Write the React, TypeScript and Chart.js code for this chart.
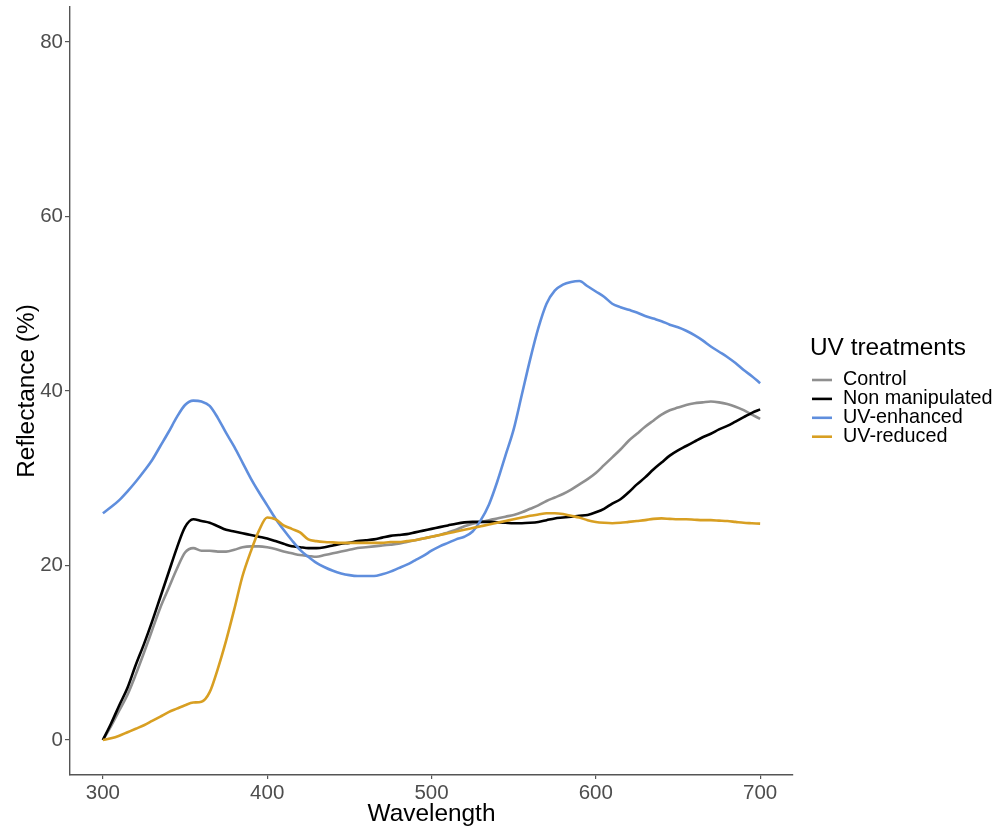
import React, { useEffect, useRef } from "react";
import { Chart, registerables } from "chart.js";

Chart.register(...registerables);

const wavelengths = [
  300, 305, 310, 315, 320, 325, 330, 335, 340, 345, 350, 355, 360, 365, 370, 375, 380, 385, 390, 395,
  400, 405, 410, 415, 420, 425, 430, 435, 440, 445, 450, 455, 460, 465, 470, 475, 480, 485, 490, 495,
  500, 505, 510, 515, 520, 525, 530, 535, 540, 545, 550, 555, 560, 565, 570, 575, 580, 585, 590, 595,
  600, 605, 610, 615, 620, 625, 630, 635, 640, 645, 650, 655, 660, 665, 670, 675, 680, 685, 690, 695,
  700,
];

const control = [
  0, 1.6, 3.4, 5.2, 7.5, 10.0, 12.6, 15.2, 17.4, 19.6, 21.5, 22.0, 21.7, 21.7, 21.6, 21.6, 21.8, 22.1, 22.2, 22.2,
  22.1, 21.9, 21.6, 21.4, 21.2, 21.1, 21.0, 21.2, 21.4, 21.6, 21.8, 22.0, 22.1, 22.2, 22.3, 22.4, 22.5, 22.7, 22.9, 23.1,
  23.3, 23.5, 23.8, 24.1, 24.5, 24.8, 25.0, 25.2, 25.4, 25.6, 25.8, 26.1, 26.5, 26.9, 27.4, 27.8, 28.2, 28.7, 29.3, 29.9,
  30.6, 31.5, 32.4, 33.3, 34.3, 35.1, 35.9, 36.6, 37.3, 37.8, 38.1, 38.4, 38.6, 38.7, 38.8, 38.7, 38.5, 38.2, 37.8, 37.3,
  36.8,
];

const nonManipulated = [
  0, 1.9, 4.0, 6.0, 8.6, 11.0, 13.6, 16.4, 19.2, 22.0, 24.4, 25.3, 25.1, 24.9, 24.5, 24.1, 23.9, 23.7, 23.5, 23.3,
  23.1, 22.8, 22.5, 22.2, 22.1, 22.0, 22.0, 22.1, 22.3, 22.5, 22.6, 22.8, 22.9, 23.0, 23.2, 23.4, 23.5, 23.6, 23.8, 24.0,
  24.2, 24.4, 24.6, 24.8, 24.95, 25.0, 25.0, 25.0, 24.95, 24.9, 24.85, 24.85, 24.9, 25.0, 25.2, 25.4, 25.5, 25.6, 25.7, 25.8,
  26.1, 26.5, 27.1, 27.6, 28.4, 29.3, 30.1, 31.0, 31.8, 32.6, 33.2, 33.7, 34.2, 34.7, 35.1, 35.6, 36.0, 36.5, 37.0, 37.5,
  37.9,
];

const uvEnhanced = [
  26.0, 26.7, 27.5, 28.5, 29.6, 30.8, 32.1, 33.7, 35.3, 37.0, 38.4, 38.9, 38.8, 38.3, 36.9, 35.2, 33.6, 31.8, 30.0, 28.4,
  26.9, 25.4, 24.1, 22.9, 21.8, 21.0, 20.3, 19.8, 19.4, 19.1, 18.9, 18.8, 18.8, 18.8, 19.0, 19.3, 19.7, 20.1, 20.6, 21.1,
  21.7, 22.2, 22.6, 23.0, 23.3, 23.9, 25.2, 27.0, 29.6, 32.6, 35.6, 39.6, 43.6, 47.2, 50.0, 51.5, 52.2, 52.5, 52.6, 52.0,
  51.4, 50.8, 50.0, 49.6, 49.3, 49.0, 48.6, 48.3, 48.0, 47.6, 47.3, 46.9, 46.4, 45.8, 45.1, 44.5, 43.9, 43.2, 42.4, 41.7,
  40.9,
];

const uvReduced = [
  0, 0.2, 0.5, 0.9, 1.3, 1.7, 2.2, 2.7, 3.2, 3.6, 4.0, 4.3, 4.4, 5.5, 8.2, 11.4, 15.0, 18.8, 21.6, 24.0,
  25.5, 25.3, 24.6, 24.2, 23.8, 23.0, 22.8, 22.7, 22.65, 22.6, 22.6, 22.6, 22.6, 22.6, 22.6, 22.7, 22.7, 22.8, 22.9, 23.1,
  23.3, 23.5, 23.7, 23.9, 24.1, 24.3, 24.5, 24.7, 24.9, 25.1, 25.3, 25.5, 25.7, 25.85, 26.0, 26.0, 25.9, 25.7, 25.5, 25.2,
  25.0, 24.9, 24.85, 24.9, 25.0, 25.1, 25.2, 25.35, 25.4, 25.35, 25.3, 25.3, 25.25, 25.2, 25.2, 25.15, 25.1, 25.0, 24.9, 24.85,
  24.8,
];

const seriesNames = ["Control", "Non manipulated", "UV-enhanced", "UV-reduced"];
const seriesColors = ["#8F8F8F", "#000000", "#5F8EDD", "#D89F22"];
const seriesValues = [control, nonManipulated, uvEnhanced, uvReduced];

const xTicks = [300, 400, 500, 600, 700];
const yTicks = [0, 20, 40, 60, 80];

const legendTitle = "UV treatments";
const xTitle = "Wavelength";
const yTitle = "Reflectance (%)";

const FONT = "'Liberation Sans', Arial, Helvetica, sans-serif";

const legendPlugin = {
  id: "customLegend",
  afterDraw(chart: any) {
    const ctx = chart.ctx;
    ctx.save();
    ctx.fillStyle = "#000";
    ctx.font = `24.4px ${FONT}`;
    ctx.textBaseline = "middle";
    ctx.textAlign = "left";
    ctx.fillText(legendTitle, 810, 348);
    ctx.font = `19.8px ${FONT}`;
    seriesNames.forEach((name, i) => {
      const y = 380 + i * 18.9;
      ctx.strokeStyle = seriesColors[i];
      ctx.lineWidth = 2.6;
      ctx.beginPath();
      ctx.moveTo(812, y);
      ctx.lineTo(832, y);
      ctx.stroke();
      ctx.fillStyle = "#000";
      ctx.fillText(name, 843, y);
    });
    ctx.restore();
  },
};

export default function App() {
  const ref = useRef<HTMLCanvasElement | null>(null);

  useEffect(() => {
    document.body.style.margin = "0";
    const canvas = ref.current;
    if (!canvas) return;
    const datasets = seriesNames.map((name, i) => ({
      label: name,
      data: wavelengths.map((w, j) => ({ x: w, y: seriesValues[i][j] })),
      borderColor: seriesColors[i],
      backgroundColor: seriesColors[i],
      borderWidth: 2.6,
      pointRadius: 0,
      tension: 0.4,
      cubicInterpolationMode: "monotone" as const,
      fill: false,
      order: seriesNames.length - i,
    }));
    const chart = new Chart(canvas, {
      type: "line",
      data: { datasets },
      plugins: [legendPlugin],
      options: {
        responsive: false,
        animation: false,
        layout: { padding: { top: 7, right: 205, left: 0, bottom: 0 } },
        plugins: {
          legend: { display: false },
          tooltip: { enabled: false },
        },
        scales: {
          x: {
            type: "linear",
            min: 280,
            max: 720,
            afterBuildTicks: (s: any) => {
              s.ticks = xTicks.map((v) => ({ value: v }));
            },
            afterFit: (s: any) => {
              s.height = 56;
              s.paddingLeft = 0;
              s.paddingRight = 0;
            },
            grid: {
              drawOnChartArea: false,
              drawTicks: true,
              tickLength: 4,
              color: "#555555",
              lineWidth: 1.2,
            },
            border: { display: true, color: "#555555", width: 1.4 },
            ticks: {
              color: "#4D4D4D",
              font: { family: FONT, size: 20.5 },
              padding: 2,
              maxRotation: 0,
              autoSkip: false,
            },
            title: {
              display: true,
              text: xTitle,
              color: "#000",
              font: { family: FONT, size: 24.4 },
              padding: { top: 0, bottom: 2 },
            },
          },
          y: {
            type: "linear",
            min: -4,
            max: 84,
            afterBuildTicks: (s: any) => {
              s.ticks = yTicks.map((v) => ({ value: v }));
            },
            afterFit: (s: any) => {
              s.width = 70;
              s.paddingTop = 0;
              s.paddingBottom = 0;
            },
            grid: {
              drawOnChartArea: false,
              drawTicks: true,
              tickLength: 5,
              color: "#555555",
              lineWidth: 1.2,
            },
            border: { display: true, color: "#555555", width: 1.4 },
            ticks: {
              color: "#4D4D4D",
              font: { family: FONT, size: 20.5 },
              padding: 2,
              autoSkip: false,
            },
            title: {
              display: true,
              text: yTitle,
              color: "#000",
              font: { family: FONT, size: 24.4 },
              padding: { top: 13, bottom: 0 },
            },
          },
        },
      },
    });
    return () => chart.destroy();
  }, []);

  return (
    <div style={{ width: 998, height: 831, background: "#fff" }}>
      <canvas ref={ref} width={998} height={831} style={{ display: "block" }} />
    </div>
  );
}
